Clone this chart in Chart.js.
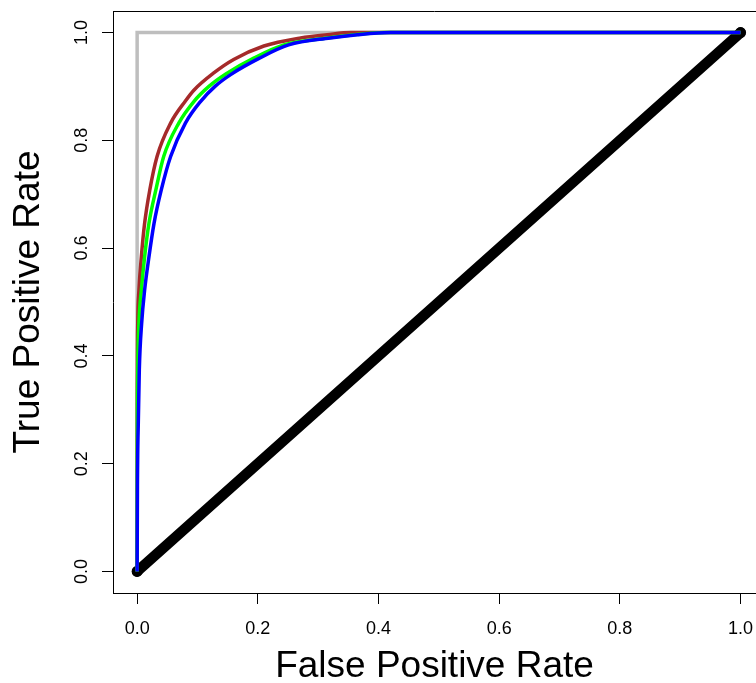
<!DOCTYPE html>
<html>
<head>
<meta charset="utf-8">
<script src="https://cdn.jsdelivr.net/npm/chart.js@4/dist/chart.umd.min.js"></script>
<style>
  body { margin: 0; background: #fff; overflow: hidden; }
  canvas { display: block; }
</style>
</head>
<body>
<canvas id="rocChart" width="756" height="683"></canvas>
<script>
// tick labels
const xTicks = [0, 0.2, 0.4, 0.6, 0.8, 1.0];
const yTicks = [0, 0.2, 0.4, 0.6, 0.8, 1.0];

// ROC curves (false positive rate / true positive rate)
const brownFpr = [0, 0.0002, 0.001, 0.003, 0.007, 0.0124, 0.021, 0.033, 0.0555, 0.080, 0.094, 0.127, 0.160, 0.210, 0.271, 0.315, 0.354, 1];
const brownTpr = [0, 0.30, 0.46, 0.522, 0.584, 0.646, 0.708, 0.770, 0.832, 0.873, 0.893, 0.925, 0.950, 0.975, 0.990, 0.996, 1.0, 1];

const greenFpr = [0, 0.0003, 0.001, 0.003, 0.007, 0.0124, 0.0196, 0.031, 0.044, 0.069, 0.094, 0.119, 0.147, 0.194, 0.243, 0.315, 0.360, 0.410, 1];
const greenTpr = [0, 0.25, 0.37, 0.461, 0.522, 0.584, 0.646, 0.708, 0.770, 0.832, 0.872, 0.900, 0.923, 0.953, 0.977, 0.990, 0.996, 1.0, 1];

const blueFpr = [0, 0.0005, 0.002, 0.0036, 0.0075, 0.0124, 0.0196, 0.028, 0.040, 0.0555, 0.080, 0.105, 0.130, 0.155, 0.202, 0.251, 0.320, 0.365, 0.420, 1];
const blueTpr = [0, 0.158, 0.281, 0.374, 0.461, 0.522, 0.584, 0.646, 0.708, 0.770, 0.832, 0.872, 0.901, 0.922, 0.952, 0.977, 0.990, 0.996, 1.0, 1];

// perfect classifier and chance line
const perfectFpr = [0, 0, 1];
const perfectTpr = [0, 1, 1];
const chanceFpr = [0, 1];
const chanceTpr = [0, 1];

const toPoints = (xs, ys) => xs.map((x, i) => ({ x: x, y: ys[i] }));

const FONT = "'Liberation Sans', Arial, Helvetica, sans-serif";

// R-style box: only the top edge is visible here (right edge is off the canvas)
const boxTop = {
    id: 'boxTop',
    afterDraw(chart) {
        const { ctx, chartArea } = chart;
        ctx.save();
        ctx.strokeStyle = '#000';
        ctx.lineWidth = 1;
        ctx.beginPath();
        ctx.moveTo(chartArea.left, chartArea.top + 0.5);
        ctx.lineTo(chartArea.right, chartArea.top + 0.5);
        ctx.stroke();
        ctx.restore();
    }
};

const curve = (fpr, tpr, color, order) => ({
    data: toPoints(fpr, tpr),
    borderColor: color,
    backgroundColor: color,
    borderWidth: 3.5,
    pointRadius: 0,
    showLine: true,
    cubicInterpolationMode: 'monotone',
    order: order
});

new Chart(document.getElementById('rocChart'), {
    type: 'scatter',
    data: {
        datasets: [
            curve(blueFpr, blueTpr, '#0000FF', 0),
            curve(greenFpr, greenTpr, '#00FF00', 1),
            curve(brownFpr, brownTpr, '#A52A2A', 2),
            {
                data: toPoints(chanceFpr, chanceTpr),
                borderColor: '#000',
                backgroundColor: '#000',
                borderWidth: 10.5,
                borderCapStyle: 'round',
                pointRadius: 5.5,
                pointBorderWidth: 0,
                showLine: true,
                order: 3
            },
            {
                data: toPoints(perfectFpr, perfectTpr),
                borderColor: '#BEBEBE',
                borderWidth: 3.5,
                pointRadius: 0,
                showLine: true,
                tension: 0,
                order: 4
            }
        ]
    },
    options: {
        responsive: false,
        animation: false,
        layout: { autoPadding: false, padding: { top: 11, right: 0, left: 0, bottom: 0 } },
        plugins: { legend: { display: false }, tooltip: { enabled: false } },
        scales: {
            x: {
                type: 'linear',
                min: -0.04,
                max: 1.0256,
                afterBuildTicks: s => { s.ticks = xTicks.map(v => ({ value: v })); },
                afterFit: s => { s.height = 90; s.paddingLeft = 0; s.paddingRight = 0; },
                ticks: {
                    callback: v => v.toFixed(1),
                    color: '#000',
                    font: { family: FONT, size: 18 },
                    padding: 14,
                    maxRotation: 0,
                    autoSkip: false
                },
                grid: { drawOnChartArea: false, tickLength: 11, tickColor: '#000', color: '#000' },
                border: { color: '#000', width: 1 },
                title: {
                    display: true,
                    text: 'False Positive Rate',
                    color: '#000',
                    font: { family: FONT, size: 37, lineHeight: 0.9 },
                    padding: { top: 0, bottom: 0 }
                }
            },
            y: {
                type: 'linear',
                min: -0.04,
                max: 1.04,
                afterBuildTicks: s => { s.ticks = yTicks.map(v => ({ value: v })); },
                afterFit: s => { s.width = 113; s.paddingTop = 0; s.paddingBottom = 0; },
                ticks: {
                    callback: v => v.toFixed(1),
                    color: '#000',
                    font: { family: FONT, size: 18 },
                    padding: 7,
                    minRotation: 90,
                    maxRotation: 90,
                    crossAlign: 'center',
                    autoSkip: false
                },
                grid: { drawOnChartArea: false, tickLength: 11, tickColor: '#000', color: '#000' },
                border: { color: '#000', width: 1 },
                title: {
                    display: true,
                    text: 'True Positive Rate',
                    color: '#000',
                    font: { family: FONT, size: 37, lineHeight: 0.9 },
                    padding: { top: 12.5, bottom: 0 }
                }
            }
        }
    },
    plugins: [boxTop]
});
</script>
</body>
</html>
